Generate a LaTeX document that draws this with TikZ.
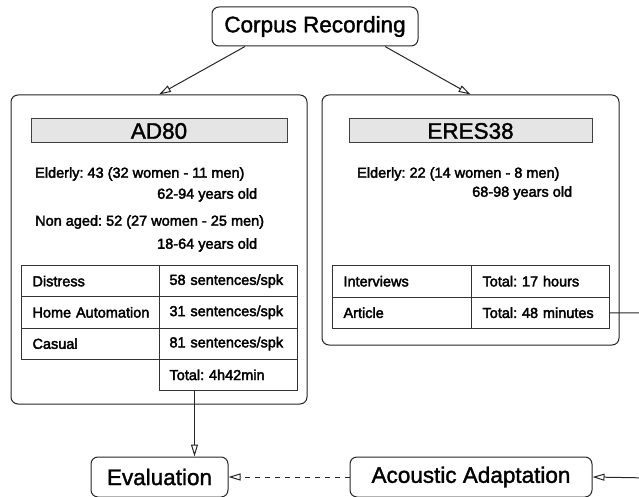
\documentclass[tikz,border=0pt]{standalone}
\usepackage{fontspec}
\setmainfont{Liberation Sans}[FakeBold=1.5]
\newfontfamily\smallheavy{Liberation Sans}[FakeBold=2.5]
\usetikzlibrary{arrows.meta}
\tikzset{
  big/.style={font=\fontsize{22.5}{27}\selectfont\frenchspacing},
  small/.style={font=\smallheavy\fontsize{14.5}{17}\selectfont\frenchspacing},
  rbox/.style={draw=black!85, line width=1pt, rounded corners=7pt, inner sep=0pt, fill=white},
  hbar/.style={draw=black!75, line width=1pt, fill=black!10, inner sep=0pt, big},
  cellbox/.style={draw=black!80, line width=1pt, inner sep=0pt, small, align=left, anchor=north west},
  txt/.style={small, inner sep=0pt, anchor=west},
  oarrow/.style={draw=black!85, line width=1pt, -{Triangle[open, length=12pt, width=7pt, fill=white]}},
}
\begin{document}
\begin{tikzpicture}[x=1pt, y=-1pt]
\useasboundingbox (0,0) rectangle (639,497);

% top node
\node[rbox, big, minimum width=206pt, minimum height=39pt] (corpus) at (315,26.5) {Corpus Recording};

% outer boxes
\node[rbox, minimum width=296pt, minimum height=309pt] (ad80) at (159,249.5) {};
\node[rbox, minimum width=297pt, minimum height=250pt] (eres) at (470.5,220) {};

% header bars
\node[hbar, minimum width=256pt, minimum height=24pt] (adh) at (159,131) {AD80};
\node[hbar, minimum width=243pt, minimum height=24pt] (ereh) at (470.5,131) {ERES38};

% AD80 texts
\node[txt] (ad1) at (35,174) {Elderly: 43 (32 women - 11 men)};
\node[txt] (ad2) at (157,195) {62-94 years old};
\node[txt] (ad3) at (35,222) {Non aged: 52 (27 women - 25 men)};
\node[txt] (ad4) at (157,245) {18-64 years old};

% ERES texts
\node[txt] (er1) at (357,174) {Elderly: 22 (14 women - 8 men)};
\node[txt] (er2) at (472,193) {68-98 years old};

% AD80 table
\tikzset{adl/.style={cellbox, text width=116pt, minimum height=31.25pt, inner xsep=11pt},
         adr/.style={cellbox, text width=118pt, minimum height=31.25pt, inner xsep=10pt}}
\node[adl] (a11) at (21,265) {Distress};
\node[adr] (a12) at (159,265) {58 sentences/spk};
\node[adl] (a21) at (21,296.25) {\mbox{Home Automation}};
\node[adr] (a22) at (159,296.25) {31 sentences/spk};
\node[adl] (a31) at (21,327.5) {Casual};
\node[adr] (a32) at (159,327.5) {81 sentences/spk};
\node[adr] (a42) at (159,358.75) {Total: 4h42min};

% ERES table
\tikzset{erl/.style={cellbox, text width=117pt, minimum height=31.5pt, inner xsep=11pt},
         err/.style={cellbox, text width=116pt, minimum height=31.5pt, inner xsep=11pt}}
\node[erl] (e11) at (332,265) {Interviews};
\node[err] (e12) at (471,265) {Total: 17 hours};
\node[erl] (e21) at (332,296.5) {Article};
\node[err] (e22) at (471,296.5) {Total: 48 minutes};

% bottom nodes
\node[rbox, big, minimum width=137pt, minimum height=40pt] (eval) at (159.5,477) {Evaluation};
\node[rbox, big, minimum width=242pt, minimum height=40pt] (adapt) at (471,477) {Acoustic Adaptation};

% connectors
\coordinate (c1) at (650,313);
\coordinate (c2) at (650,478);
\coordinate (dn) at ([xshift=-34pt]a42.south);
\draw[oarrow] ([xshift=-70pt]corpus.south) -- (ad80.north);
\draw[oarrow] ([xshift=70pt]corpus.south) -- (eres.north);
\draw[oarrow] (dn) -- (dn |- eval.north);
\draw[oarrow, dash pattern=on 5pt off 5pt] (adapt.west) -- (eval.east);
\draw[oarrow] (e22.east) -- (c1) -- (c2) -- (adapt.east);
\end{tikzpicture}
\end{document}
